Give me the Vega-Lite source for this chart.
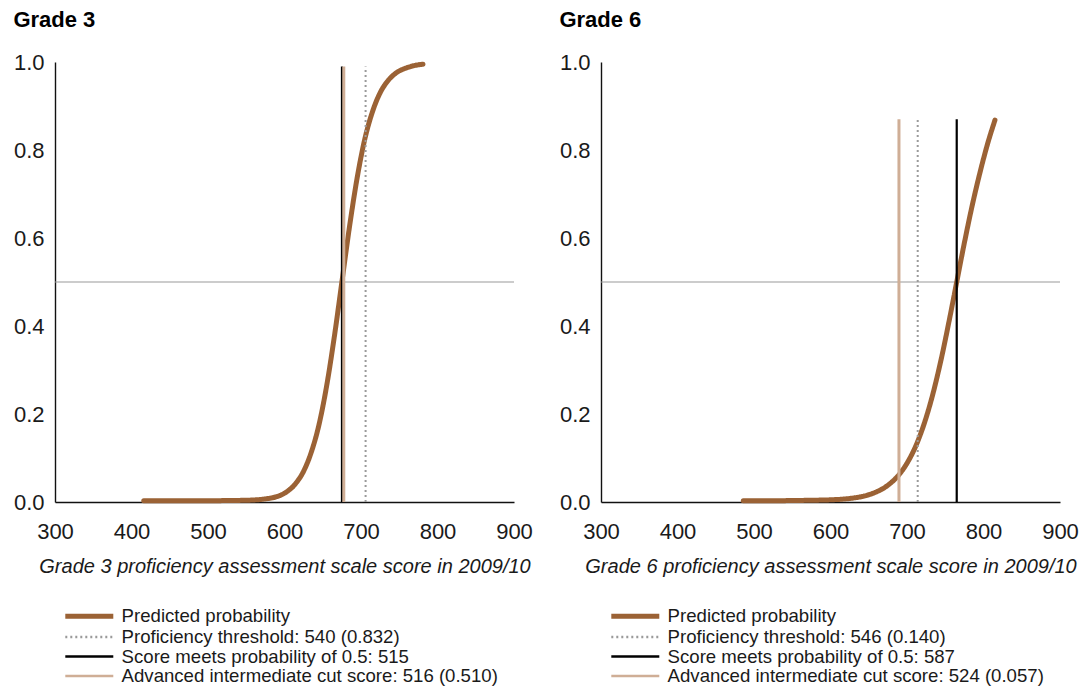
{
  "$schema": "https://vega.github.io/schema/vega-lite/v6.json",
  "background": "white",
  "padding": {"left": 13, "top": 9, "right": 0, "bottom": 0},
  "config": {
    "view": {"stroke": null},
    "font": "Liberation Sans",
    "axis": {
      "domainColor": "#111111",
      "domainWidth": 1.4,
      "ticks": false,
      "tickSize": 0,
      "grid": false,
      "labelFont": "Liberation Sans",
      "labelFontSize": 22,
      "labelColor": "#1a1a1a",
      "labelFlush": false,
      "titleFont": "Liberation Sans",
      "titleFontSize": 20,
      "titleFontStyle": "italic",
      "titleFontWeight": "normal",
      "titleColor": "#1a1a1a"
    },
    "legend": {
      "orient": "none",
      "legendX": 25,
      "legendY": 545,
      "direction": "vertical",
      "title": null,
      "symbolType": "M-4,0H4",
      "symbolSize": 144,
      "symbolStrokeWidth": 2.5,
      "labelFont": "Liberation Sans",
      "labelFontSize": 18.6,
      "labelColor": "#1a1a1a",
      "labelOffset": 23,
      "labelLimit": 0,
      "rowPadding": 0.6
    }
  },
  "datasets": {
    "level": [{"level": 0.5}],
    "curve3": [
      {"series": "Predicted probability", "score": 416, "p": 0.003},
      {"series": "Predicted probability", "score": 450, "p": 0.003},
      {"series": "Predicted probability", "score": 500, "p": 0.003},
      {"series": "Predicted probability", "score": 550, "p": 0.004},
      {"series": "Predicted probability", "score": 575, "p": 0.007},
      {"series": "Predicted probability", "score": 600, "p": 0.02},
      {"series": "Predicted probability", "score": 615, "p": 0.043},
      {"series": "Predicted probability", "score": 625, "p": 0.07},
      {"series": "Predicted probability", "score": 635, "p": 0.113},
      {"series": "Predicted probability", "score": 645, "p": 0.175},
      {"series": "Predicted probability", "score": 655, "p": 0.263},
      {"series": "Predicted probability", "score": 665, "p": 0.374},
      {"series": "Predicted probability", "score": 675, "p": 0.5},
      {"series": "Predicted probability", "score": 685, "p": 0.626},
      {"series": "Predicted probability", "score": 695, "p": 0.737},
      {"series": "Predicted probability", "score": 705, "p": 0.825},
      {"series": "Predicted probability", "score": 715, "p": 0.887},
      {"series": "Predicted probability", "score": 725, "p": 0.93},
      {"series": "Predicted probability", "score": 735, "p": 0.957},
      {"series": "Predicted probability", "score": 745, "p": 0.974},
      {"series": "Predicted probability", "score": 760, "p": 0.987},
      {"series": "Predicted probability", "score": 781, "p": 0.995}
    ],
    "rules3": [
      {"series": "Proficiency threshold: 540 (0.832)", "kind": "threshold", "score": 706, "bottom": 0, "top": 0.99},
      {"series": "Score meets probability of 0.5: 515", "kind": "half", "score": 675, "bottom": 0, "top": 0.99},
      {"series": "Advanced intermediate cut score: 516 (0.510)", "kind": "cut", "score": 677.5, "bottom": 0, "top": 0.99}
    ],
    "curve6": [
      {"series": "Predicted probability", "score": 486, "p": 0.003},
      {"series": "Predicted probability", "score": 525, "p": 0.003},
      {"series": "Predicted probability", "score": 575, "p": 0.004},
      {"series": "Predicted probability", "score": 600, "p": 0.005},
      {"series": "Predicted probability", "score": 625, "p": 0.008},
      {"series": "Predicted probability", "score": 645, "p": 0.014},
      {"series": "Predicted probability", "score": 660, "p": 0.023},
      {"series": "Predicted probability", "score": 675, "p": 0.038},
      {"series": "Predicted probability", "score": 690, "p": 0.063},
      {"series": "Predicted probability", "score": 700, "p": 0.088},
      {"series": "Predicted probability", "score": 715, "p": 0.142},
      {"series": "Predicted probability", "score": 730, "p": 0.221},
      {"series": "Predicted probability", "score": 745, "p": 0.327},
      {"series": "Predicted probability", "score": 755, "p": 0.411},
      {"series": "Predicted probability", "score": 765, "p": 0.5},
      {"series": "Predicted probability", "score": 775, "p": 0.589},
      {"series": "Predicted probability", "score": 785, "p": 0.672},
      {"series": "Predicted probability", "score": 795, "p": 0.746},
      {"series": "Predicted probability", "score": 805, "p": 0.812},
      {"series": "Predicted probability", "score": 815, "p": 0.868}
    ],
    "rules6": [
      {"series": "Proficiency threshold: 546 (0.140)", "kind": "threshold", "score": 714, "bottom": 0, "top": 0.87},
      {"series": "Score meets probability of 0.5: 587", "kind": "half", "score": 765, "bottom": 0, "top": 0.87},
      {"series": "Advanced intermediate cut score: 524 (0.057)", "kind": "cut", "score": 689.5, "bottom": 0, "top": 0.87}
    ]
  },
  "spacing": 26,
  "resolve": {
    "scale": {"color": "independent", "strokeDash": "independent"}
  },
  "hconcat": [
    {
      "width": 459,
      "height": 440,
      "title": {"text": "Grade 3", "anchor": "start", "fontSize": 22, "fontWeight": "bold", "color": "#000000", "offset": 19},
      "layer": [
        {
          "data": {"name": "level"},
          "mark": {"type": "rule", "color": "#999999", "strokeWidth": 1},
          "encoding": {"y": {"field": "level", "type": "quantitative", "scale": {"domain": [0, 1], "nice": false},
                  "axis": {"values": [0, 0.2, 0.4, 0.6, 0.8, 1], "format": ".1f", "labelPadding": 11, "title": null}}}
        },
        {
          "data": {"name": "curve3"},
          "mark": {"type": "line", "strokeCap": "round", "interpolate": "monotone", "strokeWidth": 5},
          "encoding": {
            "x": {"field": "score", "type": "quantitative", "scale": {"domain": [300, 900], "nice": false, "zero": false},
                  "axis": {"values": [300, 400, 500, 600, 700, 800, 900], "labelPadding": 19, "title": "Grade 3 proficiency assessment scale score in 2009/10", "titlePadding": 14}},
            "y": {"field": "p", "type": "quantitative"},
            "color": {"field": "series", "type": "nominal",
                      "scale": {"domain": ["Predicted probability", "Proficiency threshold: 540 (0.832)", "Score meets probability of 0.5: 515", "Advanced intermediate cut score: 516 (0.510)"],
                                "range": ["#9b6235", "#9a9a9a", "#000000", "#cfae96"]},
                      "legend": {"encode": {"symbols": {"update": {"strokeWidth": {"signal": "(datum.value || datum) === 'Predicted probability' ? 5 : 2.5"}}}}}},
            "strokeDash": {"field": "series", "type": "nominal",
                      "scale": {"domain": ["Predicted probability", "Proficiency threshold: 540 (0.832)", "Score meets probability of 0.5: 515", "Advanced intermediate cut score: 516 (0.510)"],
                                "range": [[1, 0], [2, 3], [1, 0], [1, 0]]}}
          }
        },
        {
          "data": {"name": "rules3"},
          "transform": [{"filter": "datum.kind === 'threshold'"}],
          "mark": {"type": "rule", "strokeWidth": 2},
          "encoding": {
            "x": {"field": "score", "type": "quantitative"},
            "y": {"field": "bottom", "type": "quantitative"},
            "y2": {"field": "top"},
            "color": {"field": "series", "type": "nominal"},
            "strokeDash": {"field": "series", "type": "nominal"}
          }
        },
        {
          "data": {"name": "rules3"},
          "transform": [{"filter": "datum.kind === 'half'"}],
          "mark": {"type": "rule", "strokeWidth": 2},
          "encoding": {
            "x": {"field": "score", "type": "quantitative"},
            "y": {"field": "bottom", "type": "quantitative"},
            "y2": {"field": "top"},
            "color": {"field": "series", "type": "nominal"},
            "strokeDash": {"field": "series", "type": "nominal"}
          }
        },
        {
          "data": {"name": "rules3"},
          "transform": [{"filter": "datum.kind === 'cut'"}],
          "mark": {"type": "rule", "strokeWidth": 3},
          "encoding": {
            "x": {"field": "score", "type": "quantitative"},
            "y": {"field": "bottom", "type": "quantitative"},
            "y2": {"field": "top"},
            "color": {"field": "series", "type": "nominal"},
            "strokeDash": {"field": "series", "type": "nominal"}
          }
        }
      ]
    },
    {
      "width": 459,
      "height": 440,
      "title": {"text": "Grade 6", "anchor": "start", "fontSize": 22, "fontWeight": "bold", "color": "#000000", "offset": 19},
      "layer": [
        {
          "data": {"name": "level"},
          "mark": {"type": "rule", "color": "#999999", "strokeWidth": 1},
          "encoding": {"y": {"field": "level", "type": "quantitative", "scale": {"domain": [0, 1], "nice": false},
                  "axis": {"values": [0, 0.2, 0.4, 0.6, 0.8, 1], "format": ".1f", "labelPadding": 11, "title": null}}}
        },
        {
          "data": {"name": "curve6"},
          "mark": {"type": "line", "strokeCap": "round", "interpolate": "monotone", "strokeWidth": 5},
          "encoding": {
            "x": {"field": "score", "type": "quantitative", "scale": {"domain": [300, 900], "nice": false, "zero": false},
                  "axis": {"values": [300, 400, 500, 600, 700, 800, 900], "labelPadding": 19, "title": "Grade 6 proficiency assessment scale score in 2009/10", "titlePadding": 14}},
            "y": {"field": "p", "type": "quantitative"},
            "color": {"field": "series", "type": "nominal",
                      "scale": {"domain": ["Predicted probability", "Proficiency threshold: 546 (0.140)", "Score meets probability of 0.5: 587", "Advanced intermediate cut score: 524 (0.057)"],
                                "range": ["#9b6235", "#9a9a9a", "#000000", "#cfae96"]},
                      "legend": {"encode": {"symbols": {"update": {"strokeWidth": {"signal": "(datum.value || datum) === 'Predicted probability' ? 5 : 2.5"}}}}}},
            "strokeDash": {"field": "series", "type": "nominal",
                      "scale": {"domain": ["Predicted probability", "Proficiency threshold: 546 (0.140)", "Score meets probability of 0.5: 587", "Advanced intermediate cut score: 524 (0.057)"],
                                "range": [[1, 0], [2, 3], [1, 0], [1, 0]]}}
          }
        },
        {
          "data": {"name": "rules6"},
          "transform": [{"filter": "datum.kind === 'threshold'"}],
          "mark": {"type": "rule", "strokeWidth": 2},
          "encoding": {
            "x": {"field": "score", "type": "quantitative"},
            "y": {"field": "bottom", "type": "quantitative"},
            "y2": {"field": "top"},
            "color": {"field": "series", "type": "nominal"},
            "strokeDash": {"field": "series", "type": "nominal"}
          }
        },
        {
          "data": {"name": "rules6"},
          "transform": [{"filter": "datum.kind === 'half'"}],
          "mark": {"type": "rule", "strokeWidth": 2.2},
          "encoding": {
            "x": {"field": "score", "type": "quantitative"},
            "y": {"field": "bottom", "type": "quantitative"},
            "y2": {"field": "top"},
            "color": {"field": "series", "type": "nominal"},
            "strokeDash": {"field": "series", "type": "nominal"}
          }
        },
        {
          "data": {"name": "rules6"},
          "transform": [{"filter": "datum.kind === 'cut'"}],
          "mark": {"type": "rule", "strokeWidth": 3},
          "encoding": {
            "x": {"field": "score", "type": "quantitative"},
            "y": {"field": "bottom", "type": "quantitative"},
            "y2": {"field": "top"},
            "color": {"field": "series", "type": "nominal"},
            "strokeDash": {"field": "series", "type": "nominal"}
          }
        }
      ]
    }
  ]
}
